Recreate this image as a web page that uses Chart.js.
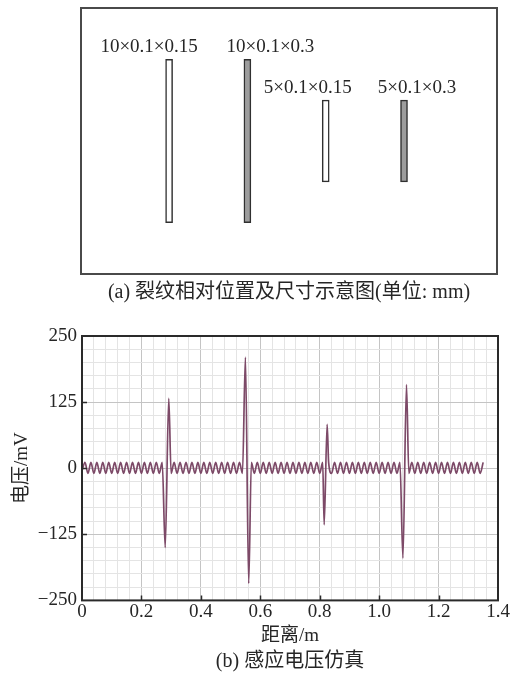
<!DOCTYPE html>
<html lang="zh">
<head>
<meta charset="utf-8">
<title>裂纹相对位置及感应电压仿真</title>
<script src="https://cdn.jsdelivr.net/npm/chart.js@4.4.1/dist/chart.umd.min.js"></script>
<style>
  html, body { margin: 0; padding: 0; background: #ffffff; }
  #page { position: relative; width: 524px; height: 680px; overflow: hidden; }
  canvas { position: absolute; left: 0; }
  #layout { top: 0; }
  #signal { top: 310px; }
</style>
</head>
<body>
<div id="page">
  <canvas id="layout" width="524" height="310"></canvas>
  <canvas id="signal" width="524" height="370"></canvas>
</div>
<script>
// ---- (a) crack layout on the plate, all sizes in mm ----
const crackLength   = [10, 10, 5, 5];
const crackWidth    = [0.1, 0.1, 0.1, 0.1];
const crackDepth    = [0.15, 0.3, 0.15, 0.3];
const crackPosition = [5.4, 10.2, 15.0, 19.8];   // distance from the plate's left edge
const plateWidth  = 25.5;
const plateHeight = 16.3;

// ---- (b) simulated induced voltage along the scan ----
const distance = [
  0.00, 0.01, 0.02, 0.03, 0.04, 0.05, 0.06, 0.07, 0.08, 0.09,
  0.10, 0.11, 0.12, 0.13, 0.14, 0.15, 0.16, 0.17, 0.18, 0.19,
  0.20, 0.21, 0.22, 0.23, 0.24, 0.25, 0.26, 0.27, 0.28, 0.292,
  0.30, 0.31, 0.32, 0.33, 0.34, 0.35, 0.36, 0.37, 0.38, 0.39,
  0.40, 0.41, 0.42, 0.43, 0.44, 0.45, 0.46, 0.47, 0.48, 0.49,
  0.50, 0.51, 0.52, 0.53, 0.54, 0.55, 0.561, 0.57, 0.58, 0.59,
  0.60, 0.61, 0.62, 0.63, 0.64, 0.65, 0.66, 0.67, 0.68, 0.69,
  0.70, 0.71, 0.72, 0.73, 0.74, 0.75, 0.76, 0.77, 0.78, 0.79,
  0.80, 0.81, 0.815, 0.825, 0.83, 0.84, 0.85, 0.86, 0.87, 0.88, 0.89,
  0.90, 0.91, 0.92, 0.93, 0.94, 0.95, 0.96, 0.97, 0.98, 0.99,
  1.00, 1.01, 1.02, 1.03, 1.04, 1.05, 1.06, 1.07, 1.08, 1.092,
  1.10, 1.11, 1.12, 1.13, 1.14, 1.15, 1.16, 1.17, 1.18, 1.19,
  1.20, 1.21, 1.22, 1.23, 1.24, 1.25, 1.26, 1.27, 1.28, 1.29,
  1.30, 1.31, 1.32, 1.33, 1.34, 1.35
];
const voltage = [
  -5, 11, -10, 11, -10, 11, -10, 11, -10, 11,
  -10, 11, -10, 11, -10, 11, -10, 11, -10, 11,
  -10, 11, -10, 11, -10, 11, -10, 11, -150, 132,
  -10, 11, -10, 11, -10, 11, -10, 11, -10, 11,
  -10, 11, -10, 11, -10, 11, -10, 11, -10, 11,
  -10, 11, -10, 11, -10, 210, -218, 11, -10, 11,
  -10, 11, -10, 11, -10, 11, -10, 11, -10, 11,
  -10, 11, -10, 11, -10, 11, -10, 11, -10, 11,
  -10, 11, -107, 83, 11, -10, 11, -10, 11, -10, 11,
  -10, 11, -10, 11, -10, 11, -10, 11, -10, 11,
  -10, 11, -10, 11, -10, 11, -10, 11, -170, 158,
  -10, 11, -10, 11, -10, 11, -10, 11, -10, 11,
  -10, 11, -10, 11, -10, 11, -10, 11, -10, 11,
  -10, 11, -10, 11, -10, 11
];

// Labelled ticks on the voltage plot
const xMajorTicks = [0, 0.2, 0.4, 0.6, 0.8, 1.0, 1.2, 1.4];
const yMajorTicks = [-250, -125, 0, 125, 250];

const SERIF = "'Liberation Serif', 'Noto Sans CJK SC', serif";
const INK = '#262626';

Chart.defaults.font.family = SERIF;
Chart.defaults.font.size = 19;
Chart.defaults.color = INK;

const near = (v, list) => list.some(t => Math.abs(t - v) < 1e-6);

// Outline of the plate around the chart area
const plateFrame = {
  id: 'plateFrame',
  afterDraw(chart) {
    const { ctx, chartArea: a } = chart;
    ctx.save();
    ctx.strokeStyle = '#4a4a4a';
    ctx.lineWidth = 2;
    ctx.strokeRect(a.left, a.top, a.right - a.left, a.bottom - a.top);
    ctx.restore();
  }
};

// Size annotation above each crack
const crackLabels = {
  id: 'crackLabels',
  afterDatasetsDraw(chart, args, opts) {
    const ctx = chart.ctx;
    const bars = chart.getDatasetMeta(0).data;
    ctx.save();
    ctx.font = `19px ${SERIF}`;
    ctx.fillStyle = INK;
    ctx.textAlign = 'center';
    ctx.textBaseline = 'middle';
    bars.forEach((bar, i) => {
      const text = `${crackLength[i]}×${crackWidth[i]}×${crackDepth[i]}`;
      const top = Math.min(bar.y, bar.base);
      ctx.fillText(text, bar.x + opts.shift[i], top - opts.lift);
    });
    ctx.restore();
  }
};

new Chart(document.getElementById('layout'), {
  type: 'bar',
  data: {
    datasets: [{
      data: crackPosition.map((x, i) => ({
        x,
        y: [plateHeight / 2 - crackLength[i] / 2, plateHeight / 2 + crackLength[i] / 2]
      })),
      backgroundColor: crackDepth.map(d => d >= 0.3 ? '#9d9d9d' : '#ffffff'),
      borderColor: '#303030',
      borderWidth: 1.5,
      borderSkipped: false,
      barThickness: 7
    }]
  },
  options: {
    responsive: false,
    animation: false,
    devicePixelRatio: 1,
    layout: { padding: { left: 81, right: 27, top: 8, bottom: 0 } },
    scales: {
      x: { type: 'linear', min: 0, max: plateWidth, offset: false, display: false },
      y: { type: 'linear', min: 0, max: plateHeight, display: false }
    },
    plugins: {
      legend: { display: false },
      tooltip: { enabled: false },
      title: {
        display: true,
        position: 'bottom',
        fullSize: false,
        text: '(a) 裂纹相对位置及尺寸示意图(单位: mm)',
        color: INK,
        font: { family: SERIF, size: 20, weight: 'normal', lineHeight: 1.2 },
        padding: { top: 7, bottom: 5 }
      },
      crackLabels: { shift: [-20, 23, -18, 13], lift: 12 }
    }
  },
  plugins: [plateFrame, crackLabels]
});

// Frame and inward major ticks of the voltage plot
const plotFrame = {
  id: 'plotFrame',
  afterDraw(chart) {
    const { ctx, chartArea: a, scales } = chart;
    ctx.save();
    ctx.strokeStyle = '#2a2a2a';
    ctx.lineWidth = 1.5;
    ctx.beginPath();
    xMajorTicks.slice(1, -1).forEach(v => {
      const px = Math.round(scales.x.getPixelForValue(v)) + 0.5;
      ctx.moveTo(px, a.bottom);
      ctx.lineTo(px, a.bottom - 5);
    });
    yMajorTicks.slice(1, -1).forEach(v => {
      const py = Math.round(scales.y.getPixelForValue(v)) + 0.5;
      ctx.moveTo(a.left, py);
      ctx.lineTo(a.left + 5, py);
    });
    ctx.stroke();
    ctx.lineWidth = 2;
    ctx.strokeRect(a.left, a.top, a.right - a.left, a.bottom - a.top);
    ctx.restore();
  }
};

new Chart(document.getElementById('signal'), {
  type: 'line',
  data: {
    datasets: [{
      data: distance.map((x, i) => ({ x, y: voltage[i] })),
      borderColor: '#7d4a68',
      borderWidth: 1.7,
      pointRadius: 0,
      cubicInterpolationMode: 'monotone',
      fill: false
    }]
  },
  options: {
    responsive: false,
    animation: false,
    devicePixelRatio: 1,
    layout: { padding: { left: 0, right: 26, top: 26, bottom: 6 } },
    scales: {
      x: {
        type: 'linear',
        min: 0,
        max: 1.4,
        offset: false,
        border: { display: false },
        grid: {
          drawTicks: false,
          lineWidth: 1,
          color: c => (c.tick && near(c.tick.value, xMajorTicks)) ? '#c4c4c4' : '#e4e4e4'
        },
        ticks: {
          stepSize: 0.04,
          autoSkip: false,
          maxRotation: 0,
          minRotation: 0,
          padding: 0,
          color: INK,
          font: { family: SERIF, size: 19 },
          callback: v => near(v, xMajorTicks) ? (v === 0 ? '0' : v.toFixed(1)) : ''
        },
        title: {
          display: true,
          text: '距离/m',
          color: INK,
          font: { family: SERIF, size: 19, lineHeight: 1.2 },
          padding: { top: 0, bottom: 2.2 }
        },
        afterFit: s => { s.height = 49.6; }
      },
      y: {
        type: 'linear',
        min: -250,
        max: 250,
        border: { display: false },
        grid: {
          drawTicks: false,
          lineWidth: 1,
          color: c => (c.tick && near(c.tick.value, yMajorTicks)) ? '#c4c4c4' : '#e4e4e4'
        },
        ticks: {
          stepSize: 25,
          autoSkip: false,
          padding: 5,
          color: INK,
          font: { family: SERIF, size: 19 },
          callback: v => near(v, yMajorTicks) ? (v < 0 ? '\u2212' + Math.abs(v) : String(v)) : ''
        },
        title: {
          display: true,
          text: '电压/mV',
          color: INK,
          font: { family: SERIF, size: 19, lineHeight: 1.2 },
          padding: { top: 10.6, bottom: 0 }
        },
        afterFit: s => { s.width = 82; }
      }
    },
    plugins: {
      legend: { display: false },
      tooltip: { enabled: false },
      title: {
        display: true,
        position: 'bottom',
        fullSize: false,
        text: '(b) 感应电压仿真',
        color: INK,
        font: { family: SERIF, size: 20, weight: 'normal', lineHeight: 1.2 },
        padding: 0
      }
    }
  },
  plugins: [plotFrame]
});
</script>
</body>
</html>
